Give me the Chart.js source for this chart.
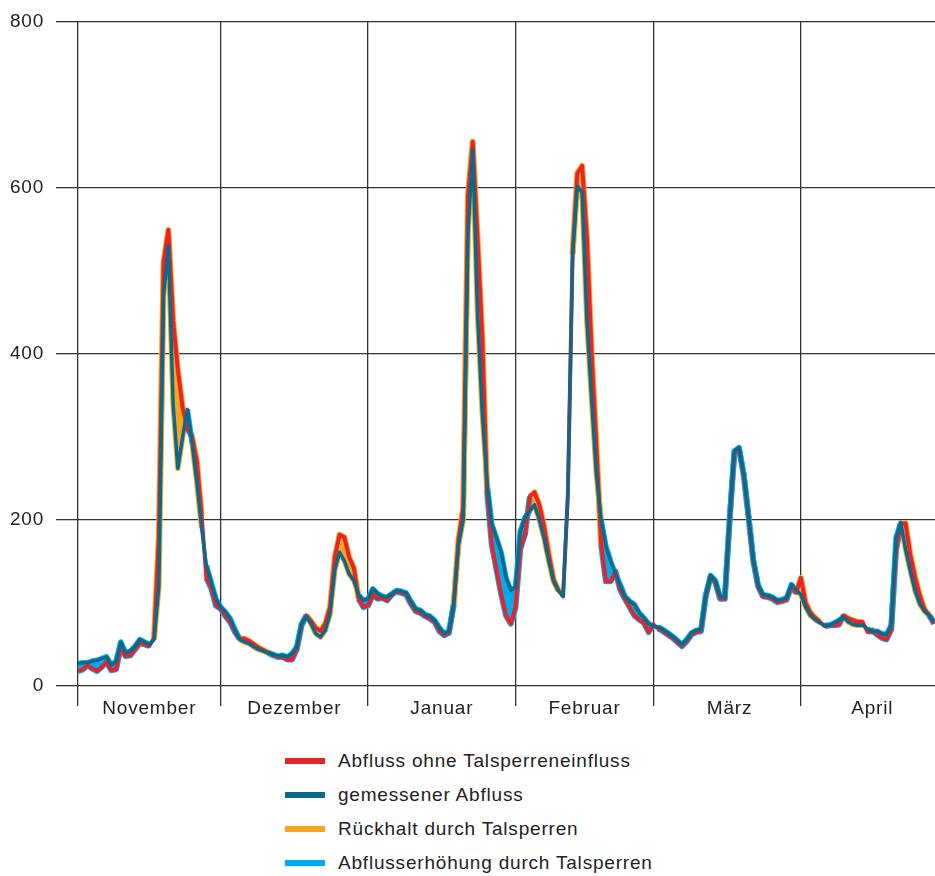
<!DOCTYPE html>
<html><head><meta charset="utf-8">
<script src="https://cdn.jsdelivr.net/npm/chart.js@4"></script>
<style>
body{margin:0;background:#fff;}
#wrap{position:relative;width:935px;height:876px;overflow:hidden;}
#c{position:absolute;left:0;top:-2px;}
#legend{position:absolute;left:285px;top:744px;font-family:"Liberation Sans",Arial,sans-serif;font-size:19px;letter-spacing:0.8px;color:#222;}
.item{display:flex;align-items:center;height:34px;white-space:nowrap;}
.sw{width:40px;height:6px;margin-right:13px;}
</style></head>
<body><div id="wrap"><canvas id="c" width="935" height="730"></canvas><div id="legend"></div></div>
<script>
// Month names (x-axis labels) and positions (day index from 1 Nov)
const months = ['November','Dezember','Januar','Februar','März','April'];
const monthStarts = [0, 30, 61, 92, 121, 152];
const monthMids = [15, 45.5, 76.5, 106.5, 137, 167];
const yTicks = [0, 200, 400, 600, 800];

// gemessener Abfluss (measured discharge), daily from 1 Nov
const measured = [
  27,28,28,30,31,33,35,25,30,53, 40,42,48,56,53,50,56,120,470,530, 340,262,300,333,292,245,190,145,125,105,
  95,89,81,68,56,53,51,47,44,42, 40,38,36,37,35,39,47,75,84,75, 63,59,67,87,140,161,151,135,127,110, 103,
  105,117,111,108,107,111,115,114,112,102, 93,91,86,84,79,70,63,66,98,170, 200,545,646,450,330,245,195,178,160,130, 115,
  119,186,203,211,218,200,178,150,126,115, 108,230,520,602,594,440,345,255,200,168, 150,135,122,108,102,98,88,82,75,
  72,71,68,64,60,55,50,56,64,67, 68,110,133,127,108,107,200,283,287,255, 205,152,122,110,109,107,103,104,106,122, 116,
  110,95,85,80,76,73,73,76,79,83, 77,74,73,73,69,65,66,63,62,73, 178,197,165,139,115,99,90,85,77
];
// Abfluss ohne Talsperreneinfluss (discharge without reservoir influence)
const natural = [
  18,20,25,21,18,23,29,19,20,47, 36,37,44,52,50,48,58,180,510,549, 440,380,335,310,300,270,205,130,118,97,
  93,84,77,65,57,57,54,50,46,43, 40,37,35,35,32,32,44,73,85,78, 70,66,75,95,155,182,179,155,142,105, 95,
  97,110,105,106,103,110,114,112,110,99, 90,88,84,81,77,66,61,64,98,175, 215,590,655,540,420,235,170,140,110,85, 75,
  95,165,183,228,233,218,192,158,128,115, 108,230,520,617,626,540,400,290,170,126, 126,138,116,105,95,85,80,76,65,
  74,69,66,62,58,53,48,54,62,65, 66,108,131,125,105,105,198,280,285,253, 203,150,120,108,107,105,101,102,104,120, 112,
  130,100,88,82,77,72,73,73,74,85, 81,79,77,77,65,67,62,58,56,68, 163,195,196,158,131,109,92,85,75
];

const RED = '#e8232b', TEAL = '#0b6a8b', ORANGE = '#f8a81c', LBLUE = '#00adea', GRID = '#333333';
const FONT = {family: '"Liberation Sans", Arial, sans-serif', size: 19};

const toPts = arr => arr.map((v, i) => ({x: i, y: v}));
const allXTicks = [...monthStarts, ...monthMids].sort((a, b) => a - b);
// halo colour of a segment: orange where retention, light blue where increase
const haloColor = c => {
  const d = natural[c.p0DataIndex] + natural[c.p1DataIndex] - measured[c.p0DataIndex] - measured[c.p1DataIndex];
  return d > 0 ? ORANGE : (d < 0 ? LBLUE : 'rgba(0,0,0,0)');
};

const spacing = {
  id: 'spacing',
  beforeLayout: ch => { ch.ctx.letterSpacing = '0.8px'; },
  beforeDraw: ch => { ch.ctx.letterSpacing = '0.8px'; }
};

new Chart(document.getElementById('c'), {
  type: 'line',
  data: {datasets: [
    {label: 'gemessener Abfluss', data: toPts(measured), borderColor: TEAL, borderWidth: 3.5,
     pointRadius: 0, tension: 0, fill: false, borderJoinStyle: 'round', order: 0},
    {label: 'Abfluss ohne Talsperreneinfluss', data: toPts(natural), borderColor: RED, borderWidth: 4,
     pointRadius: 0, tension: 0, borderJoinStyle: 'round', order: 1,
     fill: {target: 0, above: ORANGE, below: LBLUE}},
    {label: 'halo1', data: toPts(natural), borderWidth: 6, pointRadius: 0, tension: 0, borderJoinStyle: 'round',
     fill: false, order: 2, segment: {borderColor: haloColor}},
    {label: 'halo2', data: toPts(measured), borderWidth: 5.5, pointRadius: 0, tension: 0, borderJoinStyle: 'round',
     fill: false, order: 3, segment: {borderColor: haloColor}}
  ]},
  options: {
    responsive: false, animation: false, events: [],
    layout: {padding: {top: 16, right: 0, left: 0, bottom: 0}},
    plugins: {legend: {display: false}, tooltip: {enabled: false}, filler: {drawTime: 'beforeDatasetsDraw'}},
    scales: {
      x: {type: 'linear', min: 0, max: 180.2,
        afterBuildTicks: s => { s.ticks = allXTicks.map(v => ({value: v})); },
        afterFit: s => { s.height = 42; },
        grid: {color: c => (c.tick && monthStarts.includes(c.tick.value)) ? GRID : 'rgba(0,0,0,0)',
               lineWidth: 1.3, tickLength: 20, drawTicks: true},
        border: {display: false},
        ticks: {autoSkip: false, maxRotation: 0, padding: -9, color: '#222', font: FONT,
          callback: v => { const i = monthMids.indexOf(v); return i >= 0 ? months[i] : ''; }}
      },
      y: {min: 0, max: 800,
        afterBuildTicks: s => { s.ticks = yTicks.map(v => ({value: v})); },
        afterFit: s => { s.width = 78; },
        grid: {color: GRID, lineWidth: 1.3, tickLength: 22},
        border: {display: false},
        ticks: {padding: 12, color: '#222', font: FONT}
      }
    }
  },
  plugins: [spacing]
});

// Legend
const legendItems = [
  ['Abfluss ohne Talsperreneinfluss', RED],
  ['gemessener Abfluss', TEAL],
  ['Rückhalt durch Talsperren', ORANGE],
  ['Abflusserhöhung durch Talsperren', LBLUE]
];
const lg = document.getElementById('legend');
legendItems.forEach(([t, c]) => {
  const d = document.createElement('div'); d.className = 'item';
  const s = document.createElement('span'); s.className = 'sw'; s.style.background = c;
  const l = document.createElement('span'); l.textContent = t;
  d.appendChild(s); d.appendChild(l); lg.appendChild(d);
});
</script>
</body></html>
